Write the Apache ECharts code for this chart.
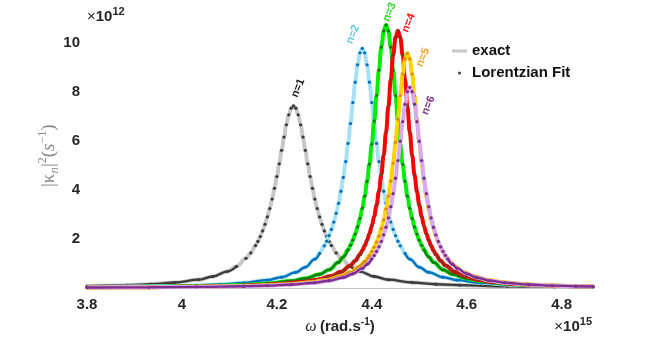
<!DOCTYPE html>
<html>
<head>
<meta charset="utf-8">
<script src="https://cdn.jsdelivr.net/npm/echarts@6/dist/echarts.min.js"></script>
<style>
  html, body { margin: 0; padding: 0; background: #ffffff; }
  #chart { width: 654px; height: 341px; }
</style>
</head>
<body>
<div id="chart"></div>
<script>
// mode labels and colours (exact curve / fit dots / peak label)
const modeNames = ['n=1', 'n=2', 'n=3', 'n=4', 'n=5', 'n=6'];
const exactColors = ['#c8c8c8', '#a6e2f7', '#00ee00', '#ff0000', '#ffd200', '#d8a8f0'];
const fitColors = ['#3c3c3c', '#0072bd', '#0f800f', '#9c2a1a', '#e08a00', '#7e2f8e'];
const labelColors = ['#111111', '#5ec4ee', '#22dd22', '#ff1010', '#f2a22a', '#7e2f8e'];

// |kappa_n|^2 (x1e12) against omega (x1e15)
const kappaN1 = [
  [3.80, 0.075], [3.885, 0.116], [3.935, 0.156], [3.985, 0.223], [4.035, 0.34], [4.065, 0.47],
  [4.095, 0.67], [4.115, 0.88], [4.135, 1.21], [4.145, 1.43],
  [4.155, 1.73], [4.16, 1.90], [4.165, 2.10], [4.17, 2.33], [4.175, 2.60], [4.18, 2.90], [4.185, 3.24],
  [4.19, 3.63], [4.195, 4.07], [4.20, 4.55], [4.205, 5.07], [4.21, 5.62], [4.215, 6.16], [4.22, 6.66],
  [4.225, 7.07], [4.23, 7.34], [4.235, 7.43], [4.24, 7.34], [4.245, 7.07], [4.25, 6.66], [4.255, 6.16],
  [4.26, 5.62], [4.265, 5.07], [4.27, 4.55], [4.275, 4.07], [4.28, 3.63], [4.285, 3.24], [4.29, 2.90],
  [4.295, 2.60], [4.30, 2.33], [4.305, 2.10], [4.31, 1.90], [4.315, 1.73],
  [4.325, 1.43], [4.335, 1.21], [4.355, 0.88], [4.375, 0.67], [4.405, 0.47], [4.435, 0.34],
  [4.485, 0.223], [4.535, 0.156], [4.585, 0.116], [4.685, 0.070], [4.785, 0.047], [4.866, 0.036]
];
const kappaN2 = [
  [3.80, 0.040], [3.90, 0.058], [3.98, 0.083], [4.03, 0.108], [4.08, 0.147], [4.13, 0.21],
  [4.18, 0.32], [4.21, 0.44], [4.24, 0.64], [4.26, 0.85], [4.28, 1.18], [4.29, 1.41],
  [4.30, 1.72], [4.305, 1.91], [4.31, 2.14], [4.315, 2.39], [4.32, 2.69], [4.325, 3.05], [4.33, 3.46],
  [4.335, 3.95], [4.34, 4.51], [4.345, 5.16], [4.35, 5.90], [4.355, 6.71], [4.36, 7.57], [4.365, 8.40],
  [4.37, 9.11], [4.375, 9.60], [4.38, 9.78], [4.385, 9.60], [4.39, 9.11], [4.395, 8.40], [4.40, 7.57],
  [4.405, 6.71], [4.41, 5.90], [4.415, 5.16], [4.42, 4.51], [4.425, 3.95], [4.43, 3.46], [4.435, 3.05],
  [4.44, 2.69], [4.445, 2.39], [4.45, 2.14], [4.455, 1.91], [4.46, 1.72],
  [4.47, 1.41], [4.48, 1.18], [4.50, 0.85], [4.52, 0.64], [4.55, 0.44], [4.58, 0.32],
  [4.63, 0.21], [4.68, 0.147], [4.73, 0.108], [4.78, 0.083], [4.866, 0.057]
];
const kappaN3 = [
  [3.80, 0.029], [3.88, 0.0385], [3.98, 0.057], [4.08, 0.095], [4.13, 0.128], [4.18, 0.184],
  [4.23, 0.284], [4.26, 0.39], [4.29, 0.56], [4.31, 0.75], [4.33, 1.05], [4.34, 1.27],
  [4.35, 1.56], [4.355, 1.74], [4.36, 1.95], [4.365, 2.20], [4.37, 2.49], [4.375, 2.84], [4.38, 3.26],
  [4.385, 3.75], [4.39, 4.35], [4.395, 5.05], [4.40, 5.87], [4.405, 6.82], [4.41, 7.85], [4.415, 8.89],
  [4.42, 9.83], [4.425, 10.49], [4.43, 10.73], [4.435, 10.49], [4.44, 9.83], [4.445, 8.89], [4.45, 7.85],
  [4.455, 6.82], [4.46, 5.87], [4.465, 5.05], [4.47, 4.35], [4.475, 3.75], [4.48, 3.26], [4.485, 2.84],
  [4.49, 2.49], [4.495, 2.20], [4.50, 1.95], [4.505, 1.74], [4.51, 1.56],
  [4.52, 1.27], [4.53, 1.05], [4.55, 0.75], [4.57, 0.56], [4.60, 0.39], [4.63, 0.284],
  [4.68, 0.184], [4.73, 0.128], [4.78, 0.095], [4.866, 0.061]
];
const kappaN4 = [
  [3.80, 0.023], [3.905, 0.033], [4.005, 0.050], [4.105, 0.082], [4.155, 0.111], [4.205, 0.159],
  [4.255, 0.246], [4.285, 0.338], [4.315, 0.49], [4.335, 0.66], [4.355, 0.92], [4.365, 1.11],
  [4.375, 1.37], [4.38, 1.53], [4.385, 1.72], [4.39, 1.95], [4.395, 2.21], [4.40, 2.53], [4.405, 2.92],
  [4.41, 3.38], [4.415, 3.94], [4.42, 4.62], [4.425, 5.42], [4.43, 6.36], [4.435, 7.41], [4.44, 8.51],
  [4.445, 9.51], [4.45, 10.23], [4.455, 10.50], [4.46, 10.23], [4.465, 9.51], [4.47, 8.51], [4.475, 7.41],
  [4.48, 6.36], [4.485, 5.42], [4.49, 4.62], [4.495, 3.94], [4.50, 3.38], [4.505, 2.92], [4.51, 2.53],
  [4.515, 2.21], [4.52, 1.95], [4.525, 1.72], [4.53, 1.53], [4.535, 1.37],
  [4.545, 1.11], [4.555, 0.92], [4.575, 0.66], [4.595, 0.49], [4.625, 0.338], [4.655, 0.246],
  [4.705, 0.159], [4.755, 0.111], [4.805, 0.082], [4.866, 0.059]
];
const kappaN5 = [
  [3.80, 0.021], [3.925, 0.032], [4.025, 0.048], [4.125, 0.079], [4.175, 0.108], [4.225, 0.154],
  [4.275, 0.239], [4.305, 0.328], [4.335, 0.48], [4.355, 0.64], [4.375, 0.89], [4.385, 1.08],
  [4.395, 1.32], [4.40, 1.48], [4.405, 1.66], [4.41, 1.87], [4.415, 2.12], [4.42, 2.42], [4.425, 2.78],
  [4.43, 3.22], [4.435, 3.74], [4.44, 4.36], [4.445, 5.10], [4.45, 5.95], [4.455, 6.89], [4.46, 7.85],
  [4.465, 8.73], [4.47, 9.35], [4.475, 9.58], [4.48, 9.35], [4.485, 8.73], [4.49, 7.85], [4.495, 6.89],
  [4.50, 5.95], [4.505, 5.10], [4.51, 4.36], [4.515, 3.74], [4.52, 3.22], [4.525, 2.78], [4.53, 2.42],
  [4.535, 2.12], [4.54, 1.87], [4.545, 1.66], [4.55, 1.48], [4.555, 1.32],
  [4.565, 1.08], [4.575, 0.89], [4.595, 0.64], [4.615, 0.48], [4.645, 0.328], [4.675, 0.239],
  [4.725, 0.154], [4.775, 0.108], [4.825, 0.079], [4.866, 0.064]
];
const kappaN6 = [
  [3.80, 0.019], [3.93, 0.029], [4.03, 0.044], [4.13, 0.072], [4.18, 0.098], [4.23, 0.140],
  [4.28, 0.217], [4.31, 0.297], [4.34, 0.43], [4.36, 0.58], [4.38, 0.80], [4.39, 0.97],
  [4.40, 1.19], [4.405, 1.33], [4.41, 1.49], [4.415, 1.68], [4.42, 1.90], [4.425, 2.17], [4.43, 2.48],
  [4.435, 2.86], [4.44, 3.32], [4.445, 3.85], [4.45, 4.48], [4.455, 5.20], [4.46, 5.99], [4.465, 6.79],
  [4.47, 7.50], [4.475, 8.01], [4.48, 8.19], [4.485, 8.01], [4.49, 7.50], [4.495, 6.79], [4.50, 5.99],
  [4.505, 5.20], [4.51, 4.48], [4.515, 3.85], [4.52, 3.32], [4.525, 2.86], [4.53, 2.48], [4.535, 2.17],
  [4.54, 1.90], [4.545, 1.68], [4.55, 1.49], [4.555, 1.33], [4.56, 1.19],
  [4.57, 0.97], [4.58, 0.80], [4.60, 0.58], [4.62, 0.43], [4.65, 0.297], [4.68, 0.217],
  [4.73, 0.140], [4.78, 0.098], [4.83, 0.072], [4.866, 0.059]
];
const curves = [kappaN1, kappaN2, kappaN3, kappaN4, kappaN5, kappaN6];

// axis range
const omegaMin = 3.8;
const omegaMax = 4.866;
const kappaMax = 10.8;

const chart = echarts.init(document.getElementById('chart'));

const sans = '"Liberation Sans", Arial, Helvetica, sans-serif';
const serif = '"Liberation Serif", "DejaVu Serif", serif';

const series = [];
curves.forEach((pts, i) => {
  const peak = Math.max(...pts.map(p => p[1]));
  // exact curve: thick light line
  series.push({
    name: 'exact',
    type: 'line',
    data: pts,
    smooth: 0.4,
    smoothMonotone: 'x',
    symbol: 'none',
    lineStyle: { width: 4, color: exactColors[i] },
    itemStyle: { color: exactColors[i] },
    z: 10 + i * 3,
    silent: true
  });
  // fit dots merge into a dark line in the flat tails
  series.push({
    name: 'tail' + i,
    type: 'line',
    data: pts.map(p => (p[1] <= 0.15 * peak ? p : [p[0], '-'])),
    smooth: 0.4,
    smoothMonotone: 'x',
    symbol: 'none',
    lineStyle: { width: 2.4, color: fitColors[i] },
    z: 11 + i * 3,
    silent: true
  });
  // Lorentzian fit dots
  series.push({
    name: 'Lorentzian Fit',
    type: 'line',
    data: pts,
    showSymbol: true,
    showAllSymbol: true,
    symbol: 'circle',
    symbolSize: 3.3,
    lineStyle: { width: 0, opacity: 0 },
    itemStyle: { color: fitColors[i], borderWidth: 0 },
    z: 12 + i * 3,
    silent: true
  });
});

const option = {
  animation: false,
  backgroundColor: '#ffffff',
  grid: { left: 87, right: 61, top: 288 - kappaMax * 24.5, bottom: 53 },
  legend: {
    orient: 'vertical',
    left: 447,
    top: 38,
    itemWidth: 15,
    itemHeight: 3,
    itemGap: 6,
    selectedMode: false,
    data: [{ name: 'exact', icon: 'rect' }, { name: 'Lorentzian Fit', icon: 'circle' }],
    textStyle: { fontFamily: sans, fontWeight: 'bold', fontSize: 15, color: '#111111', lineHeight: 16 }
  },
  xAxis: {
    type: 'value',
    min: omegaMin,
    max: omegaMax,
    interval: 0.2,
    splitLine: { show: false },
    axisTick: { show: false },
    axisLine: { show: true, onZero: false, lineStyle: { color: '#c4c4c4', width: 1 } },
    axisLabel: {
      showMaxLabel: false,
      margin: 9,
      fontFamily: sans,
      fontWeight: 'bold',
      fontSize: 15,
      color: '#262626'
    },
    name: '{w|ω} {b|(rad.s}{sup|-1}{b|)}',
    nameLocation: 'middle',
    nameGap: 28,
    nameTextStyle: {
      rich: {
        w: { fontFamily: serif, fontStyle: 'italic', fontSize: 16, color: '#262626', lineHeight: 20 },
        b: { fontFamily: sans, fontWeight: 'bold', fontSize: 15, color: '#262626', lineHeight: 20 },
        sup: { fontFamily: sans, fontWeight: 'bold', fontSize: 10, color: '#262626', verticalAlign: 'top', lineHeight: 20 }
      }
    }
  },
  yAxis: {
    type: 'value',
    min: 0,
    max: kappaMax,
    interval: 2,
    splitLine: { show: false },
    axisLine: { show: false },
    axisTick: { show: false },
    axisLabel: {
      showMaxLabel: false,
      margin: 7,
      fontFamily: sans,
      fontWeight: 'bold',
      fontSize: 15,
      color: '#262626',
      formatter: v => (v === 0 ? '' : String(v))
    },
    name: '{a||κ}{sub|n}{a||}{sup|2}{a|(}{s|s}{sup|−1}{a|)}',
    nameLocation: 'middle',
    nameMoveOverlap: false,
    nameGap: 26,
    nameTextStyle: {
      rich: {
        a: { fontFamily: serif, fontSize: 19, color: '#8a8a8a', lineHeight: 24 },
        s: { fontFamily: serif, fontStyle: 'italic', fontSize: 19, color: '#8a8a8a', lineHeight: 24 },
        sub: { fontFamily: serif, fontStyle: 'italic', fontSize: 13, color: '#8a8a8a', verticalAlign: 'bottom', lineHeight: 24 },
        sup: { fontFamily: serif, fontSize: 12, color: '#8a8a8a', verticalAlign: 'top', lineHeight: 24 }
      }
    }
  },
  series: series
};

chart.setOption(option);

// exponent labels and rotated mode labels next to each peak
const labelOffsets = [[1, -9], [-13, -5], [0, -4], [7, 1], [12, 13], [15, 27]];
const expRich = {
  x: { fontFamily: sans, fontSize: 15, fill: '#262626', verticalAlign: 'bottom', lineHeight: 18 },
  a: { fontFamily: sans, fontWeight: 'bold', fontSize: 15, fill: '#262626', verticalAlign: 'bottom', lineHeight: 18 },
  s: { fontFamily: sans, fontWeight: 'bold', fontSize: 11, fill: '#262626', verticalAlign: 'top', lineHeight: 18 }
};
const graphics = [
  { type: 'text', x: 87, y: 6, style: { text: '{x|×}{a|10}{s|12}', rich: expRich } },
  { type: 'text', x: 592, y: 316, style: { text: '{x|×}{a|10}{s|15}', align: 'right', rich: expRich } }
];
curves.forEach((pts, i) => {
  const top = pts.reduce((a, b) => (b[1] > a[1] ? b : a));
  const px = chart.convertToPixel({ gridIndex: 0 }, top);
  graphics.push({
    type: 'text',
    x: px[0] + labelOffsets[i][0],
    y: px[1] + labelOffsets[i][1],
    rotation: 68 * Math.PI / 180,
    style: {
      text: modeNames[i],
      fill: labelColors[i],
      font: 'bold 11px ' + sans,
      align: 'left',
      verticalAlign: 'middle'
    },
    z: 100
  });
});
chart.setOption({ graphic: graphics });
</script>
</body>
</html>
